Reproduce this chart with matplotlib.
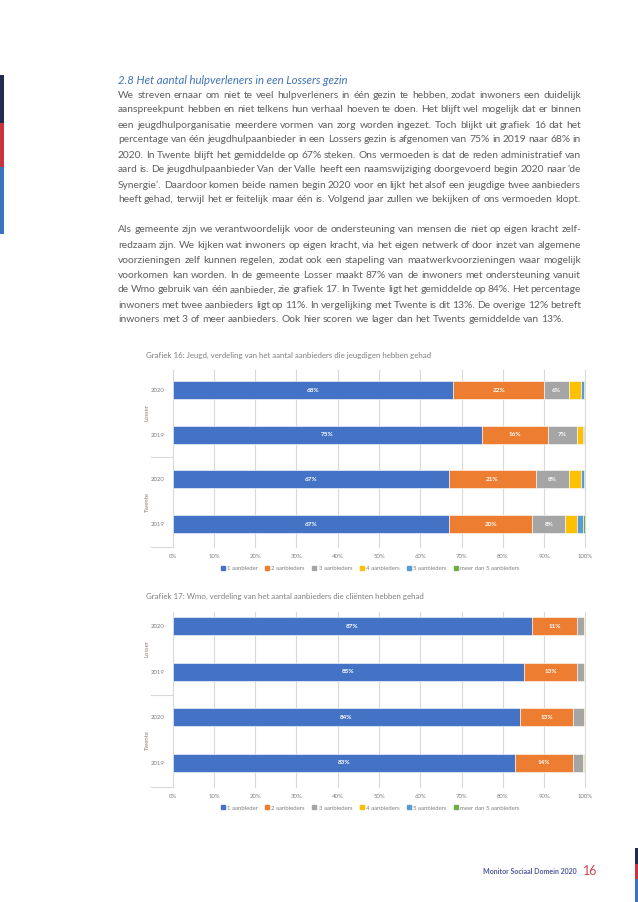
import matplotlib

matplotlib.use("Agg")
import matplotlib.pyplot as plt
from matplotlib.lines import Line2D
from matplotlib.patches import Rectangle

plt.rcParams["font.family"] = ["Lato", "DejaVu Sans"]

# ---- data ----
rows = ["2020", "2019", "2020", "2019"]
groups = ["Losser", "Twente"]
series = ["1 aanbieder", "2 aanbieders", "3 aanbieders", "4 aanbieders",
          "5 aanbieders", "meer dan 5 aanbieders"]
colors = ["#4472C4", "#ED7D31", "#A5A5A5", "#FFC000", "#5B9BD5", "#70AD47"]

# Grafiek 16 (Jeugd): Losser 2020, Losser 2019, Twente 2020, Twente 2019
jeugd_1 = [68.0, 75.0, 67.0, 67.0]
jeugd_2 = [22.0, 16.0, 21.0, 20.1]
jeugd_3 = [6.1, 7.0, 8.1, 8.1]
jeugd_4 = [2.9, 1.4, 2.9, 2.9]
jeugd_5 = [0.6, 0.3, 0.6, 1.4]
jeugd_6 = [0.4, 0.3, 0.4, 0.5]

# Grafiek 17 (Wmo)
wmo_1 = [87.1, 85.1, 84.2, 83.0]
wmo_2 = [11.0, 13.0, 12.9, 14.1]
wmo_3 = [1.7, 1.6, 2.6, 2.4]
wmo_4 = [0.1, 0.2, 0.2, 0.1]
wmo_5 = [0.05, 0.05, 0.05, 0.1]
wmo_6 = [0.05, 0.05, 0.05, 0.3]

xticks = list(range(0, 101, 10))

heading = "2.8 Het aantal hulpverleners in een Lossers gezin"
para1 = [
    "We streven ernaar om niet te veel hulpverleners in één gezin te hebben, zodat inwoners een duidelijk",
    "aanspreekpunt hebben en niet telkens hun verhaal hoeven te doen. Het blijft wel mogelijk dat er binnen",
    "een jeugdhulporganisatie meerdere vormen van zorg worden ingezet. Toch blijkt uit grafiek 16 dat het",
    "percentage van één jeugdhulpaanbieder in een Lossers gezin is afgenomen van 75% in 2019 naar 68% in",
    "2020. In Twente blijft het gemiddelde op 67% steken. Ons vermoeden is dat de reden administratief van",
    "aard is. De jeugdhulpaanbieder Van der Valle heeft een naamswijziging doorgevoerd begin 2020 naar ‘de",
    "Synergie’. Daardoor komen beide namen begin 2020 voor en lijkt het alsof een jeugdige twee aanbieders",
    "heeft gehad, terwijl het er feitelijk maar één is. Volgend jaar zullen we bekijken of ons vermoeden klopt.",
]
para2 = [
    "Als gemeente zijn we verantwoordelijk voor de ondersteuning van mensen die niet op eigen kracht zelf-",
    "redzaam zijn. We kijken wat inwoners op eigen kracht, via het eigen netwerk of door inzet van algemene",
    "voorzieningen zelf kunnen regelen, zodat ook een stapeling van maatwerkvoorzieningen waar mogelijk",
    "voorkomen kan worden. In de gemeente Losser maakt 87% van de inwoners met ondersteuning vanuit",
    "de Wmo gebruik van één aanbieder, zie grafiek 17. In Twente ligt het gemiddelde op 84%. Het percentage",
    "inwoners met twee aanbieders ligt op 11%. In vergelijking met Twente is dit 13%. De overige 12% betreft",
    "inwoners met 3 of meer aanbieders. Ook hier scoren we lager dan het Twents gemiddelde van 13%.",
]

W, H = 638, 902
fig = plt.figure(figsize=(W / 100, H / 100), dpi=100)
renderer = fig.canvas.get_renderer()


def fx(x):
    return x / W


def fy(y):
    return 1 - y / H


TEXT_L, TEXT_R = 118, 581
BODY = dict(fontsize=7.4, color="#5f5f5f")


def put_line(line, y, justify=True):
    words = line.split(" ")
    texts = [fig.text(0, fy(y), w, va="center", ha="left", **BODY) for w in words]
    widths = [t.get_window_extent(renderer).width for t in texts]
    if justify and len(words) > 1:
        gap = (TEXT_R - TEXT_L - sum(widths)) / (len(words) - 1)
    else:
        gap = 2.5
    x = TEXT_L
    for t, w in zip(texts, widths):
        t.set_x(fx(x))
        x += w + gap


fig.text(fx(TEXT_L), fy(80), heading, fontsize=8.2, style="italic",
         color="#3f73b8", va="center", ha="left")
for i, line in enumerate(para1):
    put_line(line, 95 + i * 15, justify=i < len(para1) - 1)
for i, line in enumerate(para2):
    put_line(line, 230 + i * 15, justify=i < len(para2) - 1)


def draw_chart(values, top, bottom, centers, title, title_y):
    spacing = (centers[-1] - centers[0]) / 3
    ax = fig.add_axes([fx(172.7), fy(bottom), fx(585.3) - fx(172.7), (bottom - top) / H])
    ypos = list(range(len(rows)))
    left = [0.0] * len(rows)
    for name, col, vals in zip(series, colors, values):
        ax.barh(ypos, vals, left=left, height=18.3 / spacing, color=col,
                edgecolor="white", linewidth=0.4, label=name)
        for j, v in enumerate(vals):
            if v >= 5:
                ax.text(left[j] + v / 2, j, f"{round(v)}%", ha="center", va="center",
                        fontsize=4.6, color="white", fontweight="bold")
        left = [a + b for a, b in zip(left, vals)]
    ax.set_xlim(0, 100)
    ax.set_ylim(3 + (bottom - centers[-1]) / spacing, (top - centers[0]) / spacing)
    ax.set_xticks(xticks)
    ax.set_xticklabels([f"{t}%" for t in xticks])
    ax.set_yticks(ypos)
    ax.set_yticklabels(rows)
    ax.tick_params(axis="both", length=0, labelsize=4.3, labelcolor="#7f7f7f")
    ax.tick_params(axis="x", pad=5)
    ax.tick_params(axis="y", pad=6)
    ax.xaxis.grid(True, color="#d9d9d9", linewidth=0.8)
    for gl in ax.get_xgridlines():
        gl.set_clip_on(False)
    ax.set_axisbelow(True)
    for s in ax.spines.values():
        s.set_visible(False)

    # group labels and separators
    mid1 = (centers[0] + centers[1]) / 2
    mid2 = (centers[2] + centers[3]) / 2
    sep = (centers[1] + centers[2]) / 2
    for g, yy in zip(groups, [mid1, mid2]):
        fig.text(fx(147), fy(yy), g, rotation=90, ha="center", va="center",
                 fontsize=4.3, color="#8c7b70")
    for yy in [sep, bottom]:
        fig.add_artist(Line2D([fx(150.7), fx(172.7)], [fy(yy), fy(yy)],
                              color="#d9d9d9", linewidth=0.8))

    fig.text(fx(146), fy(title_y), title, fontsize=5.65, color="#7f7f7f",
             ha="left", va="center")

    handles = [Line2D([], [], marker="s", linestyle="none", markersize=2.3,
                      color=c) for c in colors]
    fig.legend(handles, series, loc="center", ncol=6,
               bbox_to_anchor=(fx(370), fy(bottom + 21)), frameon=False,
               fontsize=4.3, labelcolor="#7f7f7f", handletextpad=0.3,
               columnspacing=1.2, handlelength=0.8)
    return ax


draw_chart([jeugd_1, jeugd_2, jeugd_3, jeugd_4, jeugd_5, jeugd_6],
           370, 547, [390, 435, 479, 524],
           "Grafiek 16: Jeugd, verdeling van het aantal aanbieders die jeugdigen hebben gehad", 355)
draw_chart([wmo_1, wmo_2, wmo_3, wmo_4, wmo_5, wmo_6],
           612, 787, [626, 672, 718, 763],
           "Grafiek 17: Wmo, verdeling van het aantal aanbieders die cliënten hebben gehad", 596)

# page side bars
for (x0, x1, y0, y1, c) in [
    (0, 4, 75, 123, "#232c4f"), (0, 4, 123, 167, "#c8333f"), (0, 4, 167, 234, "#3a74c0"),
    (635, 638, 848, 864, "#232c4f"), (635, 638, 864, 879, "#c8333f"), (635, 638, 879, 902, "#3a74c0"),
]:
    fig.add_artist(Rectangle((fx(x0), fy(y1)), fx(x1) - fx(x0), (y1 - y0) / H,
                             color=c, transform=fig.transFigure, linewidth=0))

fig.text(fx(577), fy(872), "Monitor Sociaal Domein 2020", fontsize=5.0, color="#4d5a9c",
         ha="right", va="center", fontweight="bold")
fig.text(fx(583), fy(871), "16", fontsize=9, color="#d0454f", ha="left", va="center")

fig.savefig("out.png", dpi=100)
